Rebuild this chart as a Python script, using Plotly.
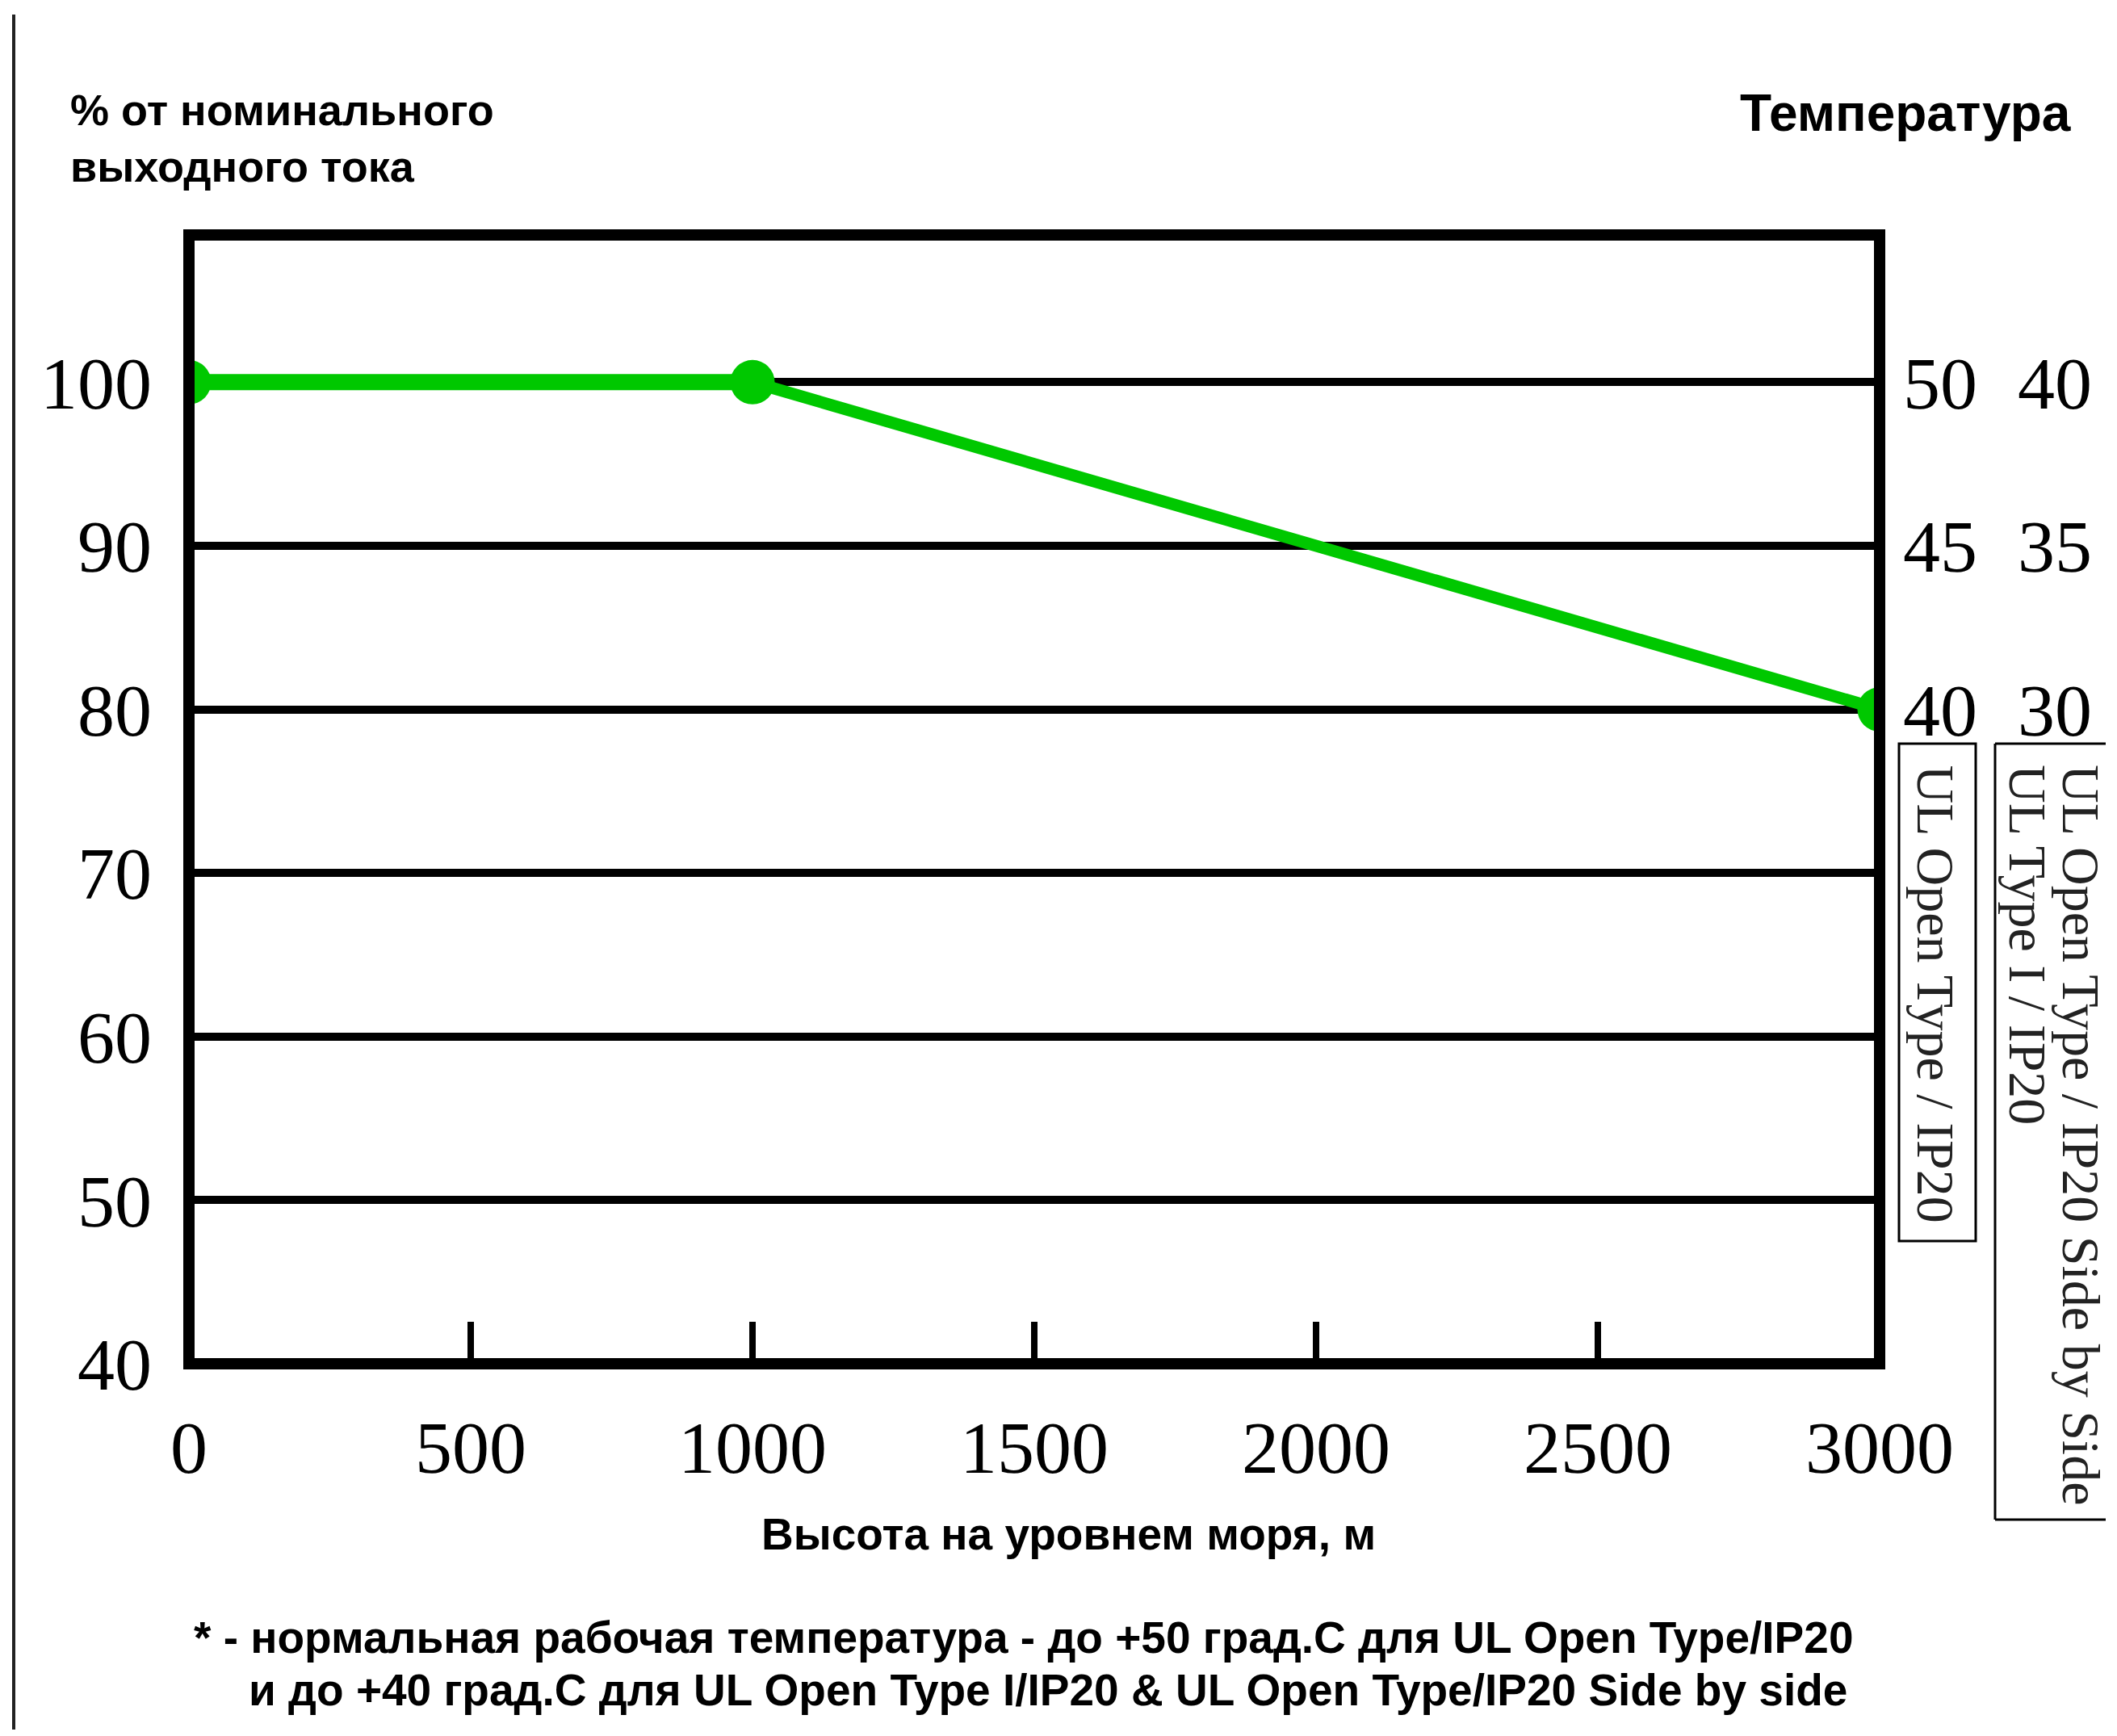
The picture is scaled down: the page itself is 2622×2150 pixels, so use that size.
import plotly.graph_objects as go

# ---------------- data ----------------
altitude_m = [0, 1000, 3000]
current_pct = [100, 100, 80]

x_ticks = [0, 500, 1000, 1500, 2000, 2500, 3000]
y_ticks = [40, 50, 60, 70, 80, 90, 100]

temp_tick_vals = [80, 90, 100]
temp_open_type = ["40", "45", "50"]      # UL Open Type / IP20
temp_side_by_side = ["30", "35", "40"]   # UL Type I / IP20, Side by Side

title_left = "% от номинального<br>выходного тока"
title_right = "Температура"
x_title = "Высота на уровнем моря, м"
note_line1 = "* - нормальная рабочая температура - до +50 град.С для UL Open Type/IP20"
note_line2 = "и до +40 град.С для UL Open Type I/IP20 &amp; UL Open Type/IP20 Side by side"
box1_text = "UL Open Type / IP20"
box2_line1 = "UL Open Type / IP20 Side by Side"
box2_line2 = "UL Type I / IP20"

# ---------------- layout geometry ----------------
PAGE_W, PAGE_H = 2622, 2150
OFF = 8                                  # page body margin
W, H = PAGE_W - 2 * OFF, PAGE_H - 2 * OFF
PL, PR, PT, PB = 234, 2328, 291, 1689   # plot area in page pixels


def px(xp):
    return (xp - PL) / (PR - PL)


def py(yp):
    return (PB - yp) / (PB - PT)


GREEN = "#00c800"
SERIF = "Liberation Serif, Times New Roman, serif"
SANS = "Liberation Sans, Arial, sans-serif"

fig = go.Figure()

# flat (thicker) segment and the full derating curve
fig.add_trace(go.Scatter(
    x=altitude_m[:2], y=current_pct[:2], mode="lines",
    line=dict(color=GREEN, width=20), showlegend=False, hoverinfo="skip",
))
fig.add_trace(go.Scatter(
    x=altitude_m, y=current_pct, mode="lines+markers",
    line=dict(color=GREEN, width=15),
    marker=dict(color=GREEN, size=55, line=dict(width=0)),
    showlegend=False, hoverinfo="skip",
))
# invisible helpers so the temperature axes render
fig.add_trace(go.Scatter(x=altitude_m, y=current_pct, yaxis="y2", mode="lines",
                         line=dict(width=0), opacity=0, showlegend=False, hoverinfo="skip"))
fig.add_trace(go.Scatter(x=altitude_m, y=current_pct, yaxis="y3", mode="lines",
                         line=dict(width=0), opacity=0, showlegend=False, hoverinfo="skip"))

fig.update_layout(
    width=W, height=H,
    margin=dict(l=PL - OFF, r=W - (PR - OFF), t=PT - OFF, b=H - (PB - OFF), pad=0),
    paper_bgcolor="white", plot_bgcolor="white",
    showlegend=False,
    xaxis=dict(
        range=[0, 3000], tickvals=x_ticks, ticks="inside", ticklen=52, tickwidth=8,
        tickcolor="black", showgrid=False, zeroline=False, showline=False,
        tickfont=dict(family=SERIF, size=92, color="black"), ticklabelstandoff=42,
    ),
    yaxis=dict(
        range=[40, 109], tickvals=y_ticks, showgrid=True, gridcolor="black", gridwidth=10,
        zeroline=False, showline=False, ticks="",
        tickfont=dict(family=SERIF, size=92, color="black"), ticklabelstandoff=45,
    ),
    yaxis2=dict(
        overlaying="y", side="right", range=[40, 109], tickvals=temp_tick_vals,
        ticktext=temp_open_type, showgrid=False, zeroline=False, showline=False, ticks="",
        tickfont=dict(family=SERIF, size=92, color="black"), ticklabelstandoff=28,
    ),
    yaxis3=dict(
        overlaying="y", side="right", anchor="free", position=1, range=[40, 109],
        tickvals=temp_tick_vals, ticktext=temp_side_by_side, showgrid=False,
        zeroline=False, showline=False, ticks="",
        tickfont=dict(family=SERIF, size=92, color="black"), ticklabelstandoff=170,
    ),
)

BOX = dict(color="black", width=3)
shapes = [
    # plot frame
    dict(type="rect", xref="paper", yref="paper", x0=0, x1=1, y0=0, y1=1,
         line=dict(color="black", width=14), layer="above"),
    # left page border line
    dict(type="line", xref="paper", yref="paper", x0=px(17), x1=px(17), y0=py(18), y1=py(2160),
         line=dict(color="#222222", width=4)),
    # legend box 1
    dict(type="rect", xref="paper", yref="paper", x0=px(2352), x1=px(2447), y0=py(921), y1=py(1537),
         line=BOX),
    # legend box 2 (runs off the right edge: top, left and bottom sides only)
    dict(type="line", xref="paper", yref="paper", x0=px(2471), x1=px(2608), y0=py(921), y1=py(921),
         line=BOX),
    dict(type="line", xref="paper", yref="paper", x0=px(2471), x1=px(2471), y0=py(921), y1=py(1882),
         line=BOX),
    dict(type="line", xref="paper", yref="paper", x0=px(2471), x1=px(2608), y0=py(1882), y1=py(1882),
         line=BOX),
]
fig.update_layout(shapes=shapes)

ann = [
    dict(text=title_left, x=px(85), y=py(171), xanchor="left", yanchor="middle", align="left",
         font=dict(family=SANS, size=54, color="black", weight="bold")),
    dict(text=title_right, x=px(2567), y=py(140), xanchor="right", yanchor="middle",
         font=dict(family=SANS, size=64, color="black", weight="bold")),
    dict(text=x_title, x=px(1323), y=py(1900), xanchor="center", yanchor="middle",
         font=dict(family=SANS, size=55, color="black", weight="bold")),
    dict(text=note_line1, x=px(2297), y=py(2028), xanchor="right", yanchor="middle",
         font=dict(family=SANS, size=55, color="black", weight="bold")),
    dict(text=note_line2, x=px(2290), y=py(2093), xanchor="right", yanchor="middle",
         font=dict(family=SANS, size=55, color="black", weight="bold")),
    dict(text=box1_text, x=px(2397), y=py(945), xanchor="center", yanchor="top", textangle=90,
         font=dict(family=SERIF, size=66, color="#222222")),
    dict(text=box2_line1, x=px(2578), y=py(945), xanchor="center", yanchor="top", textangle=90,
         font=dict(family=SERIF, size=66, color="#222222")),
    dict(text=box2_line2, x=px(2512), y=py(945), xanchor="center", yanchor="top", textangle=90,
         font=dict(family=SERIF, size=66, color="#222222")),
]
for a in ann:
    a.update(xref="paper", yref="paper", showarrow=False)
fig.update_layout(annotations=ann)

fig.write_html("out.html")
